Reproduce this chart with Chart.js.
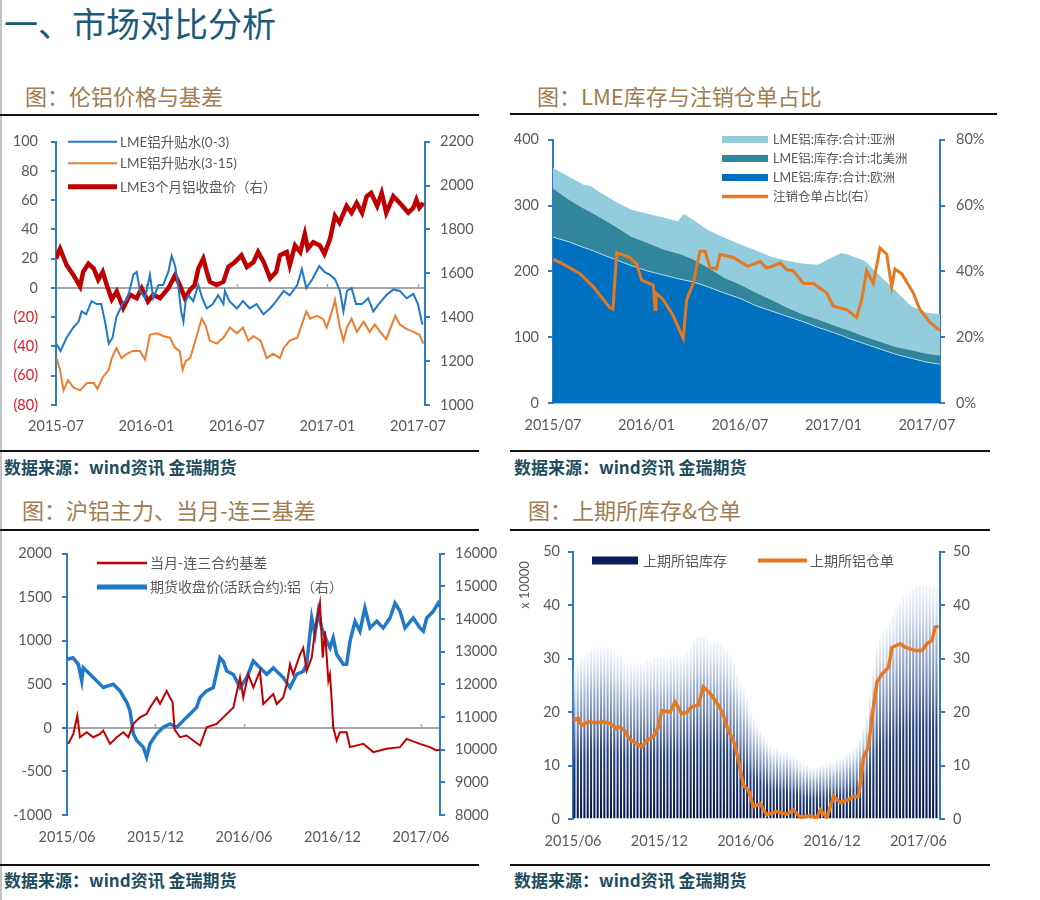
<!DOCTYPE html>
<html><head><meta charset="utf-8">
<script src="https://cdn.jsdelivr.net/npm/chart.js@4.4.1/dist/chart.umd.min.js"></script>
<style>
body{margin:0;width:1040px;height:900px;position:relative;background:#fff;overflow:hidden;font-family:"Noto Sans CJK SC",sans-serif;}
.a{position:absolute;white-space:nowrap}
.title{font-size:34px;line-height:34px;color:#1c5a7a;left:4px;top:6px}
.sub{font-size:22px;line-height:22px;color:#a27c4f}
.rule{height:2px;background:#111}
.src{font-size:17px;line-height:17px;font-weight:bold;color:#1e4e5e}
canvas{position:absolute}
</style></head>
<body>
<div class="a" style="left:0;top:0;width:1.5px;height:900px;background:#c4c4c4"></div>
<div class="a title">一、市场对比分析</div>
<div class="a sub" style="left:25px;top:84px">图：伦铝价格与基差</div>
<div class="a sub" style="left:537px;top:84px">图：LME库存与注销仓单占比</div>
<div class="a sub" style="left:22px;top:498px">图：沪铝主力、当月-连三基差</div>
<div class="a sub" style="left:528px;top:498px">图：上期所库存&amp;仓单</div>

<canvas id="c1" width="480" height="330" style="left:0;top:120px"></canvas>
<canvas id="c2" width="490" height="330" style="left:510px;top:120px"></canvas>
<canvas id="c3" width="510" height="330" style="left:0;top:535px"></canvas>
<canvas id="c4" width="500" height="330" style="left:510px;top:535px"></canvas>

<div class="a rule" style="left:0;top:114px;width:479px"></div>
<div class="a rule" style="left:510px;top:113px;width:487px"></div>
<div class="a rule" style="left:0;top:450px;width:479px"></div>
<div class="a rule" style="left:510px;top:450px;width:480px"></div>
<div class="a rule" style="left:0;top:529px;width:479px"></div>
<div class="a rule" style="left:510px;top:529px;width:480px"></div>
<div class="a rule" style="left:0;top:864px;width:479px"></div>
<div class="a rule" style="left:510px;top:864px;width:480px"></div>
<div class="a src" style="left:4px;top:458px">数据来源：wind资讯 金瑞期货</div>
<div class="a src" style="left:514px;top:458px">数据来源：wind资讯 金瑞期货</div>
<div class="a src" style="left:4px;top:871px">数据来源：wind资讯 金瑞期货</div>
<div class="a src" style="left:514px;top:871px">数据来源：wind资讯 金瑞期货</div>

<script>
// ---------- Chart 1: LME price & spreads (x = months since 2015-07) ----------
const lmeTickLabels = ['2015-07','2016-01','2016-07','2017-01','2017-07'];
const spread03Months = [0,0.3,0.7,1.15,1.5,1.7,2.0,2.36,2.7,3.0,3.25,3.5,3.75,4.0,4.4,4.75,5.13,5.35,5.57,5.9,6.23,6.45,6.8,7.1,7.45,7.67,7.9,8.1,8.3,8.45,8.6,8.8,9.1,9.44,9.7,10.0,10.4,10.75,11.1,11.2,11.5,12.0,12.4,12.85,13.3,13.75,14.2,14.6,15.1,15.5,16.0,16.3,16.6,17.0,17.46,17.8,18.17,18.5,18.83,19.06,19.3,19.6,19.9,20.3,20.7,21.04,21.4,21.9,22.37,22.8,23.25,23.7,24.0,24.3];
const spread03 = [-38,-43,-34,-27,-23,-16,-18,-9,-11,-11,-23,-38,-34,-20,-11,-7,9,11,-2,-7,9,-7,2,2,11,22,15,2,-16,-23,-9,-5,-9,2,-7,-14,-11,-5,-11,-2,-9,-14,-9,-14,-11,-18,-14,-9,-2,-5,2,13,0,6,15,11,9,6,-2,-16,-2,0,-11,-11,-7,-16,-11,-5,-1,-2,-7,-4,-11,-25];
const spread315Months = [0.05,0.27,0.5,0.8,1.15,1.6,2.05,2.5,2.75,3.1,3.5,3.7,4.0,4.35,4.7,5.1,5.57,5.9,6.23,6.7,7.15,7.56,7.9,8.2,8.4,8.6,8.9,9.3,9.66,9.9,10.2,10.65,11.1,11.54,12.0,12.4,12.75,13.1,13.57,13.97,14.4,14.85,15.1,15.5,16.0,16.3,16.6,16.85,17.3,17.7,17.95,18.3,18.5,18.83,19.06,19.3,19.6,19.95,20.4,20.8,21.15,21.5,21.9,22.5,22.8,23.25,23.7,24.1,24.36];
const spread315 = [-48,-56,-70,-63,-68,-70,-65,-65,-69,-61,-56,-48,-41,-48,-45,-43,-43,-49,-32,-31,-33,-34,-41,-43,-56,-50,-48,-34,-21,-25,-36,-38,-34,-27,-31,-27,-36,-33,-36,-48,-45,-48,-41,-36,-34,-25,-16,-21,-19,-21,-27,-16,-8,-27,-36,-27,-21,-30,-23,-30,-25,-30,-35,-19,-25,-28,-30,-32,-38];
const lme3mMonths = [0,0.27,0.7,1.15,1.6,1.8,2.15,2.5,2.8,3.1,3.36,3.7,4.03,4.46,4.9,5.35,5.68,6.1,6.45,6.9,7.45,7.9,8.2,8.55,8.9,9.2,9.44,9.77,10.0,10.2,10.65,11.1,11.43,11.87,12.3,12.66,13.1,13.4,13.77,14.2,14.6,14.85,15.3,15.5,15.85,16.2,16.5,16.7,17.06,17.5,17.8,18.17,18.5,18.8,19.27,19.6,19.94,20.3,20.6,20.9,21.3,21.6,21.9,22.37,22.8,23.36,23.7,23.9,24.1,24.36];
const lme3mPrice = [1667,1712,1638,1593,1540,1607,1644,1622,1571,1607,1548,1481,1517,1442,1503,1487,1532,1472,1503,1487,1532,1592,1548,1487,1526,1547,1622,1667,1607,1562,1547,1562,1629,1652,1682,1629,1652,1697,1652,1577,1607,1682,1697,1637,1727,1697,1779,1712,1742,1727,1689,1756,1862,1831,1907,1876,1921,1876,1951,1966,1907,1966,1876,1951,1921,1876,1899,1936,1899,1921];

// ---------- Chart 2: LME stocks (x = months since 2015-07) ----------
const invTickLabels = ['2015/07','2016/01','2016/07','2017/01','2017/07'];
const invMonths = [0,1,2,2.4,3,4,5,6,7,8,8.4,9,10,11,12,13,14,15,16,17,18,18.5,19,20,21,22,23,24,24.84];
const invEurope = [252,245,236,233,227,218,209,201,195,189,187,184,176,167,159,148,140,132,124,115,107,103,98,90,82,74,68,62,59];
const invNorthAmerica = [74,64,59,57,55,50,44,43,39,38,37,34,29,23,21,20,17,13,11,12,11,11,12,11,11,11,12,13,13];
const invAsia = [31,35,36,40,38,38,41,44,48,49,63,60,57,61,61,64,65,71,77,83,104,114,115,115,100,85,67,62,63];
const cancelMonths = [0.02,0.66,1.73,2.59,3.66,3.85,4.09,4.94,5.37,5.69,6.44,6.55,6.61,7.08,7.72,8.36,8.58,9.0,9.43,9.76,10.08,10.5,10.72,11.57,12.0,12.5,12.86,13.3,13.7,14.14,14.6,15.0,15.42,16.07,16.71,17.57,17.99,18.85,19.49,19.81,20.13,20.56,20.99,21.42,21.74,21.95,22.38,23.13,23.55,24.2,24.84];
const cancelPct = [43.7,42.2,39.3,35.3,28.9,28.5,45.7,44.2,42.2,37.3,35.8,28.4,33.4,31.4,26.5,19.6,31.4,36.3,46.1,46.1,41.2,40.7,45.2,44.2,43,41.5,42.2,43,41,41.7,42.5,40.5,40.2,36.3,36.3,33.4,29.4,28.4,26,31.4,40.2,36.3,47.1,45.2,35.3,40.7,39.3,33.4,28.4,24.5,22];

// ---------- Chart 3: SHFE basis & price (x = months since 2015-06) ----------
const shfeTickLabels = ['2015/06','2015/12','2016/06','2016/12','2017/06'];
const basisMonths = [0.09,0.43,0.7,0.88,1.34,1.78,2.24,2.46,2.92,3.37,3.82,4.16,4.5,4.95,5.4,5.63,6.08,6.31,6.76,6.98,7.15,7.3,7.66,8.1,8.56,9.02,9.47,10.15,10.6,11.28,11.73,11.95,12.29,12.63,13.08,13.31,13.99,14.22,14.66,14.9,15.12,15.34,15.8,16.02,16.25,16.59,16.81,17.15,17.34,17.49,17.72,17.83,17.95,18.05,18.28,18.5,18.96,19.19,20.09,20.77,21.67,22.58,23.03,23.93,24.61,25.06,25.29];
const basisValues = [-183,-68,140,-107,-50,-107,-68,-31,-183,-107,-50,-107,46,121,160,235,349,277,425,349,300,-20,-107,-88,-145,-202,7,46,121,235,577,349,616,463,653,274,388,274,349,502,730,616,844,919,653,805,1110,1433,805,1110,540,616,311,7,-145,-50,-50,-221,-183,-278,-240,-221,-126,-183,-221,-259,-251];
const futMonths = [0,0.4,0.77,1.0,1.1,1.56,2.01,2.46,3.14,3.59,4.05,4.27,4.5,4.73,5.17,5.4,5.63,6.08,6.53,6.98,7.44,7.88,8.34,8.79,9.02,9.47,9.92,10.37,10.6,10.83,11.28,11.73,12.18,12.63,13.08,13.54,13.99,14.2,14.66,15.12,15.57,16.02,16.25,16.59,16.81,17.04,17.27,17.61,17.83,18.05,18.28,18.73,18.96,19.19,19.53,19.86,20.2,20.54,21.0,21.44,21.9,22.24,22.58,22.92,23.48,23.93,24.16,24.39,24.83,25.17,25.29];
const futClose = [12766,12815,12614,12106,12512,12310,12106,11903,12005,11802,11450,11194,10485,10281,10078,9774,10180,10485,10688,10789,10688,10890,11093,11295,11600,11802,11903,12815,12700,12411,12300,11903,12200,12715,12512,12310,12500,12411,12208,11903,12310,12400,12614,14032,13528,14236,13727,13323,13120,13424,12919,12614,12614,13323,13932,13627,14337,13727,13932,13727,14032,14488,14236,13727,14032,13727,13627,14032,14236,14488,14388];

// ---------- Chart 4: SHFE stocks & warrants (x = months since 2015-06), x10000 t ----------
const stockTickLabels = ['2015/06','2015/12','2016/06','2016/12','2017/06'];
const stockAxisNote = 'x 10000';
const stockWeekly = [28,29,30,30.5,31,31.5,32,32,32,32,32,31.5,31,30.5,30.5,29,29,29,29,29,29,29,29.5,29.5,30,30,30,30,30,30.5,30.5,30.5,30.5,30.5,31,32,33,34,34,34,33.5,33,33,33,32.5,32,31.5,30.5,29,27,25.5,24,22.5,20,18.5,17.5,16.5,15.5,14.5,13.5,13,13,12.5,12.5,12.5,12,11.5,11,10.5,10,10,9.5,9.5,9.5,10,10,10,10.5,10.5,11,11,11.5,12,12.5,13,13.5,15,17,19,23,28,32,33.5,34.5,35.5,36.5,38,39.5,40.5,41.5,42,42.5,43,43.5,43.5,43.5,43.5,43.5,43.5,43];
const warrantMonths = [0.02,0.37,0.6,1.06,1.65,2.1,2.57,3.04,3.27,3.6,3.9,4.3,4.78,5.13,5.58,5.93,6.17,6.75,7.09,7.56,7.9,8.25,8.71,9.06,9.53,9.87,10.22,10.45,10.78,11.15,11.5,11.84,12.19,12.54,13.0,13.47,14.17,14.86,15.32,15.79,16.48,16.95,17.18,17.64,18.1,18.57,19.03,19.49,19.84,20.19,20.54,20.77,21.12,21.47,21.93,22.16,22.74,23.09,23.78,24.25,24.6,24.94,25.17,25.4];
const warrantValues = [18.5,18.8,17.5,18.2,18,18.2,17.9,16.9,17.2,16.5,15,14.3,13.5,14.7,15.4,17.2,20.3,20,21.9,19.7,19.9,21,21.3,24.7,23.5,22.2,20.7,19.4,16.6,14.7,11,6.3,5.4,2.3,2.9,0.75,1.4,0.9,1.7,0.3,0.6,0.2,1.7,0.3,4.2,3.1,3.5,4.2,4.2,11.6,13.5,19,25.6,27.1,28.4,32.1,32.8,32.1,31.5,31.5,32.8,33.4,35.9,36];
const weekStart = 0.1, weekStep = 12/52;

// ---------- helpers ----------
const FONT = 'Lato, "Noto Sans CJK SC", sans-serif';
const GRAY = '#595959';
const AXB = '#2f7cc6';
const tickFont = {family: FONT, size: 14.5};
function pts(xs, ys){ return xs.map((x,i)=>({x:x, y:ys[i]})); }

function legendPlugin(items, size){
  return {id:'customLegend', afterDraw(chart){
    const c = chart.ctx; c.save();
    c.font = size + 'px ' + FONT; c.textBaseline = 'middle'; c.textAlign = 'left';
    items.forEach(it=>{
      const ds = chart.data.datasets[it.ds];
      if(it.kind==='box'){ c.fillStyle = it.color || ds.backgroundColor; c.fillRect(it.x1, it.y-it.h/2, it.x2-it.x1, it.h); }
      else { c.strokeStyle = ds.borderColor; c.lineWidth = it.lw; c.beginPath(); c.moveTo(it.x1,it.y); c.lineTo(it.x2,it.y); c.stroke(); }
      c.fillStyle = GRAY; c.fillText(ds.label, it.tx, it.y+0.5);
    });
    c.restore();
  }};
}
function baseTicksPlugin(yId, val, len, color, width){
  return {id:'baseTicks', beforeDatasetsDraw(chart){
    const c = chart.ctx, xs = chart.scales.x, y = chart.scales[yId].getPixelForValue(val);
    c.save(); c.strokeStyle = color; c.lineWidth = width; c.beginPath();
    xs.ticks.forEach(t=>{ if(t.value<=xs.min) return; const x = Math.round(xs.getPixelForValue(t.value))+0.5; c.moveTo(x,y); c.lineTo(x,y-len); });
    c.stroke(); c.restore();
  }};
}
function xScale(max, labels, height, pad){
  return {type:'linear', min:0, max:max, offset:false,
    afterBuildTicks: s=>{ s.ticks = labels.map((_,i)=>({value:i*6})); },
    afterFit: s=>{ s.height = height; },
    ticks:{autoSkip:false, maxRotation:0, padding:pad, font:tickFont, color:GRAY, callback:(v)=>labels[Math.round(v/6)]},
    grid:{display:false, drawTicks:false}, border:{display:false}};
}
function yScale(pos, min, max, step, width, pad, fmt, zeroLine, extra){
  const s = {position:pos, min:min, max:max,
    afterFit: sc=>{ sc.width = width; },
    ticks:{stepSize:step, padding:pad, font:tickFont, color:GRAY, callback:fmt},
    grid:{drawOnChartArea: !!zeroLine, drawTicks:true, tickLength:5, tickColor:AXB, tickWidth:2,
      color: zeroLine ? (ctx=> (ctx.tick && ctx.tick.value===0) ? '#a6a6a6' : 'rgba(0,0,0,0)') : 'rgba(0,0,0,0)',
      lineWidth: 2},
    border:{display:true, color:AXB, width:2}};
  return Object.assign(s, extra||{});
}
const common = {responsive:false, animation:false, events:[],
  elements:{point:{radius:0}, line:{tension:0}},
};

// ---------- Chart 1 ----------
new Chart(document.getElementById('c1'), {
  type:'line',
  data:{datasets:[
    {label:'LME铝升贴水(0-3)', data:pts(spread03Months, spread03), borderColor:'#1f78c8', borderWidth:2, yAxisID:'y'},
    {label:'LME铝升贴水(3-15)', data:pts(spread315Months, spread315), borderColor:'#ed7d31', borderWidth:2, yAxisID:'y'},
    {label:'LME3个月铝收盘价（右）', data:pts(lme3mMonths, lme3mPrice), borderColor:'#c00000', borderWidth:4.5, yAxisID:'y1'}
  ]},
  options:Object.assign({}, common, {
    layout:{padding:{left:0,right:0,top:18,bottom:0}},
    plugins:{legend:{display:false}, tooltip:{enabled:false}},
    scales:{
      x: xScale(24.47, lmeTickLabels, 45, 13),
      y: (()=>{ const s = yScale('left', -80, 100, 20, 56, 13, v=> v<0 ? '('+(-v)+')' : v, true);
                s.ticks.color = ctx => (ctx.tick && ctx.tick.value<0) ? '#e3191c' : GRAY; return s; })(),
      y1: yScale('right', 1000, 2200, 200, 55, 10, v=>v, false)
    }
  }),
  plugins:[
    baseTicksPlugin('y', 0, 4, '#a6a6a6', 1.5),
    legendPlugin([
      {ds:0, kind:'line', x1:68, x2:117, y:21.7, tx:120, lw:2},
      {ds:1, kind:'line', x1:68, x2:117, y:43.3, tx:120, lw:2},
      {ds:2, kind:'line', x1:68, x2:117, y:66.7, tx:120, lw:5}
    ], 13.5)
  ]
});

// ---------- Chart 2 ----------
new Chart(document.getElementById('c2'), {
  type:'line',
  data:{datasets:[
    {label:'LME铝:库存:合计:欧洲', data:pts(invMonths, invEurope), backgroundColor:'#0070c0', borderColor:'rgba(185,222,242,0.9)', borderWidth:1, fill:'origin', yAxisID:'y', order:1},
    {label:'LME铝:库存:合计:北美洲', data:pts(invMonths, invNorthAmerica), backgroundColor:'#31859c', borderColor:'rgba(0,0,0,0)', borderWidth:1, fill:'-1', yAxisID:'y', order:1},
    {label:'LME铝:库存:合计:亚洲', data:pts(invMonths, invAsia), backgroundColor:'#93cddd', borderColor:'rgba(0,0,0,0)', borderWidth:1, fill:'-1', yAxisID:'y', order:1},
    {label:'注销仓单占比(右）', data:pts(cancelMonths, cancelPct), borderColor:'#e8781e', borderWidth:3, fill:false, yAxisID:'y1', order:0}
  ]},
  options:Object.assign({}, common, {
    layout:{padding:{left:0,right:0,top:12,bottom:0}},
    plugins:{legend:{display:false}, tooltip:{enabled:false}},
    scales:{
      x: Object.assign(xScale(24.84, invTickLabels, 47, 14), {border:{display:true, color:'#bfbfbf', width:1}}),
      y: yScale('left', 0, 400, 100, 43, 9, v=>v, false, {stacked:true}),
      y1: yScale('right', 0, 80, 20, 60, 11, v=>v+'%', false)
    }
  }),
  plugins:[
    baseTicksPlugin('y', 0, 4, '#9dc3e6', 1.5),
    legendPlugin([
      {ds:2, kind:'box', x1:212, x2:258, y:19.5, h:7, tx:263},
      {ds:1, kind:'box', x1:212, x2:258, y:38.5, h:7, tx:263},
      {ds:0, kind:'box', x1:212, x2:258, y:57.5, h:7, tx:263},
      {ds:3, kind:'line', x1:212, x2:258, y:76.5, tx:263, lw:3.5}
    ], 12.5)
  ]
});

// ---------- Chart 3 ----------
new Chart(document.getElementById('c3'), {
  type:'line',
  data:{datasets:[
    {label:'当月-连三合约基差', data:pts(basisMonths, basisValues), borderColor:'#c00000', borderWidth:2, yAxisID:'y'},
    {label:'期货收盘价(活跃合约):铝（右）', data:pts(futMonths, futClose), borderColor:'#1f78c8', borderWidth:3.5, yAxisID:'y1'}
  ]},
  options:Object.assign({}, common, {
    layout:{padding:{left:0,right:0,top:17,bottom:0}},
    plugins:{legend:{display:false}, tooltip:{enabled:false}},
    scales:{
      x: xScale(25.29, shfeTickLabels, 50, 14),
      y: yScale('left', -1000, 2000, 500, 67, 10, v=>v, true),
      y1: yScale('right', 8000, 16000, 1000, 70, 10, v=>v, false)
    }
  }),
  plugins:[
    baseTicksPlugin('y', 0, 4, '#a6a6a6', 1.5),
    legendPlugin([
      {ds:0, kind:'line', x1:97, x2:147, y:28, tx:150, lw:2.5},
      {ds:1, kind:'line', x1:97, x2:147, y:52, tx:150, lw:5}
    ], 14)
  ]
});

// ---------- Chart 4 ----------
function barGradient(ctx){
  const chart = ctx.chart;
  if(!chart.chartArea || ctx.type!=='data' || !chart.scales.y) return '#0b1f5c';
  const ys = chart.scales.y;
  const top = ys.getPixelForValue(ctx.raw.y), bottom = ys.getPixelForValue(0);
  const g = chart.ctx.createLinearGradient(0, bottom, 0, top);
  g.addColorStop(0, '#041650'); g.addColorStop(0.4, '#22407f'); g.addColorStop(0.75, 'rgba(110,135,190,0.65)'); g.addColorStop(1, 'rgba(215,224,244,0.35)');
  return g;
}
new Chart(document.getElementById('c4'), {
  type:'bar',
  data:{datasets:[
    {type:'bar', label:'上期所铝库存', data:stockWeekly.map((v,i)=>({x:weekStart+i*weekStep, y:v})), backgroundColor:barGradient, barThickness:1.4, yAxisID:'y', order:1},
    {type:'line', label:'上期所铝仓单', data:pts(warrantMonths, warrantValues), borderColor:'#e8781e', borderWidth:3.5, fill:false, yAxisID:'y1', order:0}
  ]},
  options:Object.assign({}, common, {
    layout:{padding:{left:0,right:0,top:16,bottom:0}},
    plugins:{legend:{display:false}, tooltip:{enabled:false}},
    scales:{
      x: xScale(25.5, stockTickLabels, 46, 14),
      y: yScale('left', 0, 50, 10, 63, 8, v=>v, false),
      y1: yScale('right', 0, 50, 10, 70, 8, v=>v, false)
    }
  }),
  plugins:[
    legendPlugin([
      {ds:0, kind:'box', x1:82, x2:128, y:25.5, h:8, tx:133, color:'#0b1f5c'},
      {ds:1, kind:'line', x1:248, x2:297, y:25.5, tx:300, lw:4}
    ], 14),
    {id:'axisNote', afterDraw(chart){
      const c = chart.ctx; c.save(); c.translate(15, 50); c.rotate(-Math.PI/2);
      c.font = '13px ' + FONT; c.fillStyle = GRAY; c.textAlign = 'center'; c.textBaseline = 'middle';
      c.fillText(stockAxisNote, 0, 0); c.restore();
    }}
  ]
});
</script>
</body></html>
